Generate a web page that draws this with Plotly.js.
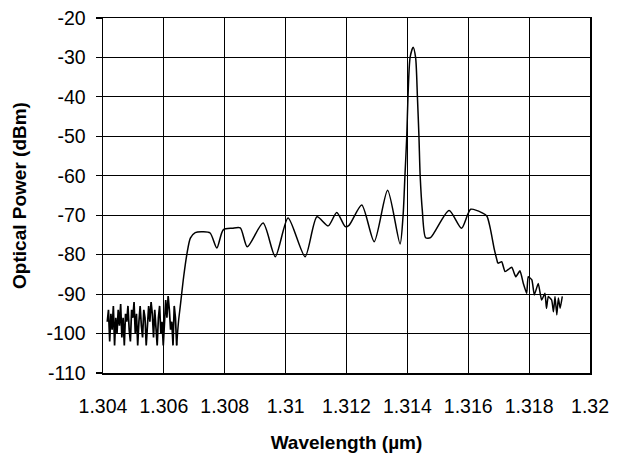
<!DOCTYPE html>
<html>
<head>
<meta charset="utf-8">
<script src="https://cdn.plot.ly/plotly-3.0.1.min.js"></script>
<style>html,body{margin:0;padding:0;background:#fff;}#chart{width:618px;height:456px;}</style>
</head>
<body>
<div id="chart"></div>
<script>
// Noise floor segment (wavelength in µm, power in dBm)
const noiseWl = [1.30414, 1.30418, 1.30422, 1.30426, 1.30430, 1.30434, 1.30438, 1.30442, 1.30446, 1.30450,
  1.30454, 1.30458, 1.30462, 1.30466, 1.30470, 1.30474, 1.30478, 1.30482, 1.30486, 1.30490,
  1.30494, 1.30498, 1.30502, 1.30506, 1.30510, 1.30514, 1.30518, 1.30522, 1.30526, 1.30530,
  1.30534, 1.30538, 1.30542, 1.30546, 1.30550, 1.30554, 1.30558, 1.30562, 1.30566, 1.30570,
  1.30574, 1.30578, 1.30582, 1.30586, 1.30590, 1.30594, 1.30598, 1.30602, 1.30606, 1.30610,
  1.30614, 1.30618, 1.30622, 1.30626, 1.30630, 1.30634, 1.30638, 1.30642];
const noisePower = [-97, -94, -102, -95, -99, -93, -103, -96, -100, -94,
  -98, -92.5, -101, -96, -103, -95, -97, -93, -99, -102,
  -94, -96, -92, -100, -95, -103, -97, -93, -98, -101,
  -94, -96, -103, -99, -93, -97, -92, -95, -101, -94,
  -98, -103, -96, -93, -100, -97, -103, -95, -91.5, -96,
  -90.5, -94, -99, -97, -103, -93, -96, -103];

// Smooth spectrum segment
const mainWl = [1.30642, 1.30648, 1.30654, 1.30665, 1.30676, 1.30687, 1.30703, 1.30729, 1.30752, 1.30774,
  1.30795, 1.30825, 1.30851, 1.30874, 1.30926, 1.30966, 1.31008, 1.31064, 1.31103, 1.31140,
  1.31168, 1.31196, 1.31209, 1.31250, 1.31291, 1.31335, 1.31376, 1.31386, 1.31392, 1.31398,
  1.31402, 1.31409, 1.31419, 1.31427, 1.31433, 1.31438, 1.31442, 1.31449, 1.31460, 1.31476,
  1.31537, 1.31578, 1.31608, 1.31646, 1.31661, 1.31672, 1.31686, 1.31697];
const mainPower = [-103, -97, -93, -85.6, -79.7, -75.8, -74.4, -74.2, -74.5, -78.3,
  -73.7, -73.3, -73.2, -78, -72, -80.5, -70.7, -80.5, -70.4, -72.7,
  -69.3, -72.9, -72.5, -67.4, -76.7, -63.7, -77.3, -70, -60, -50,
  -40, -30, -27.4, -30, -40, -50, -60, -68.7, -75.7, -75.7,
  -68.8, -73.3, -68.5, -69.4, -70.2, -73.2, -78.8, -82.2];

// Rippled tail segment
const tailWl = [1.31697, 1.31710, 1.31721, 1.31743, 1.31756, 1.31770, 1.31781, 1.31792, 1.31797, 1.31809,
  1.31817, 1.31830, 1.31841, 1.31852, 1.31857, 1.31863, 1.31874, 1.31880, 1.31885, 1.31891,
  1.31896, 1.31902, 1.31909];
const tailPower = [-82.2, -81.8, -84.3, -83.2, -85.6, -84.1, -87.3, -89.8, -85.6, -86.4,
  -90.2, -87.3, -91.5, -89.8, -93.6, -90.6, -91.5, -94.5, -90.6, -95.3,
  -91, -93.6, -90.6];

const xTicks = [1.304, 1.306, 1.308, 1.31, 1.312, 1.314, 1.316, 1.318, 1.32];
const xTickLabels = ["1.304", "1.306", "1.308", "1.31", "1.312", "1.314", "1.316", "1.318", "1.32"];
const yTicks = [-110, -100, -90, -80, -70, -60, -50, -40, -30, -20];
const yTickLabels = ["-110", "-100", "-90", "-80", "-70", "-60", "-50", "-40", "-30", "-20"];

const FONT = "'Liberation Sans', Arial, Helvetica, sans-serif";

const traces = [
  {x: noiseWl, y: noisePower, mode: 'lines', line: {color: '#000', width: 1.7, shape: 'linear'}, hoverinfo: 'none'},
  {x: mainWl, y: mainPower, mode: 'lines', line: {color: '#000', width: 1.5, shape: 'spline', smoothing: 0.7}, hoverinfo: 'none'},
  {x: tailWl, y: tailPower, mode: 'lines', line: {color: '#000', width: 1.5, shape: 'spline', smoothing: 0.4}, hoverinfo: 'none'}
];

const layout = {
  width: 618, height: 456,
  margin: {l: 103, r: 28, t: 18, b: 83},
  paper_bgcolor: '#fff', plot_bgcolor: '#fff',
  showlegend: false,
  font: {family: FONT, color: '#000'},
  xaxis: {
    range: [1.304, 1.32], tickvals: xTicks, ticktext: xTickLabels,
    showgrid: true, gridcolor: '#000', gridwidth: 1.2,
    showline: true, mirror: true, linecolor: '#000', linewidth: 1.5,
    zeroline: false, ticks: '', ticklabelstandoff: 15,
    tickfont: {family: FONT, size: 19.5, color: '#000'},
    title: {text: 'Wavelength (µm)', font: {family: FONT, size: 19, color: '#000', weight: 700}, standoff: 20},
    automargin: false
  },
  yaxis: {
    range: [-110, -20], tickvals: yTicks, ticktext: yTickLabels,
    showgrid: true, gridcolor: '#000', gridwidth: 1.2,
    showline: true, mirror: true, linecolor: '#000', linewidth: 1.5,
    zeroline: false, ticks: 'outside', ticklen: 6, tickcolor: '#000', tickwidth: 1.2,
    ticklabelstandoff: 6,
    tickfont: {family: FONT, size: 19.5, color: '#000'},
    title: {text: 'Optical Power (dBm)', font: {family: FONT, size: 19, color: '#000', weight: 700}, standoff: 15},
    automargin: false
  }
};

Plotly.newPlot('chart', traces, layout, {staticPlot: true, displayModeBar: false});
</script>
</body>
</html>
